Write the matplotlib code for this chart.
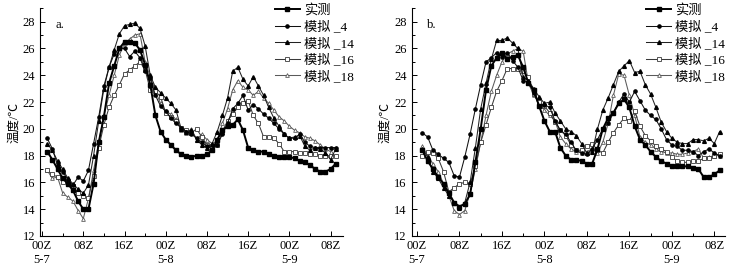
import matplotlib
matplotlib.use("Agg")
import matplotlib.pyplot as plt
from matplotlib.ticker import MultipleLocator, FixedLocator

plt.rcParams['font.family'] = ['Liberation Serif', 'Noto Sans CJK SC']
plt.rcParams['font.size'] = 9

hours = list(range(1, 58))

# ---------------- panel a ----------------
obs_a = [18.3, 17.7, 17.0, 16.3, 15.9, 15.4, 14.6, 14.0, 14.0, 15.9,
         19.0, 20.9, 23.4, 24.7, 26.0, 26.5, 26.5, 26.4, 25.9, 24.8,
         23.3, 21.0, 19.8, 19.2, 18.8, 18.4, 18.1, 18.0, 17.9, 18.0,
         18.0, 18.1, 18.4, 19.2, 19.9, 20.2, 20.3, 20.7, 19.9, 18.6,
         18.4, 18.3, 18.3, 18.1, 18.0, 17.9, 17.9, 17.9, 17.8, 17.6,
         17.5, 17.3, 17.0, 16.8, 16.8, 17.0, 17.4]
sim4_a = [19.3, 18.5, 17.3, 16.8, 16.2, 15.8, 16.4, 16.1, 16.9, 18.9,
          20.9, 23.2, 24.6, 25.6, 26.0, 26.0, 25.4, 25.8, 25.3, 24.3,
          23.8, 22.5, 21.7, 21.3, 20.8, 20.4, 20.1, 19.8, 19.6, 19.3,
          19.0, 18.7, 18.5, 18.8, 19.6, 20.4, 21.5, 21.9, 22.5, 21.4,
          21.8, 21.5, 21.1, 20.8, 20.4, 20.0, 19.6, 19.3, 19.3, 19.6,
          19.0, 18.7, 18.6, 18.6, 18.6, 18.6, 18.6]
sim14_a = [18.9, 18.4, 17.6, 17.0, 16.3, 15.9, 15.5, 15.2, 15.8, 18.0,
           20.6, 23.0, 24.6, 25.9, 27.1, 27.7, 27.8, 27.9, 27.5, 26.2,
           24.0, 23.1, 22.7, 22.3, 21.9, 21.4, 20.0, 19.8, 19.9, 19.2,
           18.8, 18.6, 18.9, 19.8, 21.0, 22.3, 24.3, 24.6, 23.7, 23.2,
           23.9, 23.2, 22.5, 21.6, 20.8, 20.2, 19.6, 19.3, 19.4, 19.5,
           18.7, 18.4, 18.6, 18.5, 18.2, 17.7, 18.5]
sim16_a = [16.9, 16.6, 16.4, 16.0, 15.9, 15.7, 15.2, 15.0, 14.8, 16.5,
           18.6, 20.3, 21.6, 22.5, 23.3, 24.1, 24.4, 24.7, 25.0, 24.4,
           22.9, 22.8, 22.4, 21.2, 20.9, 20.6, 20.1, 19.9, 19.7, 20.0,
           19.4, 18.8, 18.6, 18.8, 19.8, 20.6, 21.1, 21.6, 21.9, 22.1,
           21.0, 20.4, 19.4, 19.4, 19.3, 18.9, 18.3, 18.3, 18.3, 18.2,
           18.2, 18.1, 18.1, 18.0, 18.0, 18.0, 18.0]
sim18_a = [16.9, 16.3, 16.4, 15.2, 14.9, 14.6, 13.9, 13.3, 14.8, 16.9,
           19.0, 21.0, 22.5, 24.0, 25.5, 26.4, 26.7, 27.0, 27.1, 25.0,
           23.9, 22.8, 21.9, 21.3, 21.1, 20.7, 19.9, 19.7, 20.0, 19.2,
           19.6, 19.2, 18.9, 19.1, 20.4, 21.5, 22.9, 23.6, 23.1, 22.9,
           22.5, 22.8, 22.3, 21.9, 21.4, 20.9, 20.6, 20.2, 19.9, 19.7,
           19.4, 19.3, 19.1, 18.8, 18.5, 18.3, 18.6]

# ---------------- panel b ----------------
obs_b = [18.4, 17.6, 17.0, 16.4, 15.9, 15.2, 14.5, 14.2, 14.4, 15.1,
         17.5, 20.0, 22.9, 24.7, 25.3, 25.7, 25.2, 25.4, 25.5, 24.6,
         23.4, 22.9, 21.7, 20.6, 19.8, 19.8, 18.6, 18.0, 17.7, 17.7,
         17.6, 17.4, 17.4, 18.5, 20.0, 20.8, 21.2, 21.9, 22.2, 21.6,
         20.2, 19.2, 18.8, 18.3, 17.9, 17.6, 17.4, 17.2, 17.2, 17.2,
         17.2, 17.1, 17.0, 16.4, 16.4, 16.6, 16.9]
sim4_b = [19.7, 19.4, 18.4, 18.1, 17.8, 17.5, 16.5, 16.4, 17.9, 19.6,
          21.5, 23.3, 25.0, 25.3, 25.7, 25.4, 25.7, 25.1, 24.6, 23.6,
          23.5, 22.7, 21.7, 21.8, 21.6, 20.6, 19.9, 19.6, 19.0, 18.4,
          18.2, 18.1, 18.5, 19.2, 20.0, 20.4, 21.2, 22.0, 22.6, 22.0,
          22.8, 22.1, 21.4, 21.0, 20.7, 20.0, 19.2, 18.8, 18.7, 18.4,
          18.4, 18.3, 18.0, 18.3, 18.5, 18.2, 18.0]
sim14_b = [18.5, 17.9, 16.8, 16.3, 15.6, 15.0, 14.5, 14.1, 14.5, 16.0,
           18.6, 21.5, 23.4, 25.2, 26.6, 26.6, 26.8, 26.4, 26.0, 23.9,
           23.6, 23.0, 22.4, 21.9, 22.0, 21.2, 20.6, 20.0, 19.8, 19.5,
           18.9, 18.2, 18.3, 20.0, 21.4, 22.3, 23.3, 24.3, 24.7, 25.1,
           24.2, 24.3, 23.3, 22.6, 21.6, 20.5, 19.8, 19.3, 19.0, 18.9,
           18.9, 19.2, 19.2, 19.1, 19.3, 18.9, 19.8]
sim16_b = [18.0, 18.3, 18.2, 17.8, 16.8, 15.3, 15.6, 15.9, 16.0, 15.9,
           17.2, 19.0, 20.3, 21.6, 22.8, 23.6, 24.5, 24.5, 24.5, 24.3,
           23.9, 22.6, 22.0, 21.7, 21.2, 20.5, 19.9, 19.5, 18.8, 18.4,
           18.4, 18.7, 18.9, 18.4, 18.2, 19.0, 19.7, 20.3, 20.8, 20.6,
           21.3, 20.2, 19.5, 19.1, 18.7, 18.5, 18.3, 17.9, 17.6, 17.5,
           17.5, 17.6, 17.6, 17.8, 17.8, 18.0, 18.1]
sim18_b = [18.7, 18.0, 17.4, 16.8, 15.9, 15.0, 13.9, 13.6, 13.9, 15.2,
           17.0, 19.0, 21.0, 22.8, 24.0, 25.0, 25.6, 25.8, 26.0, 25.8,
           23.4, 22.5, 22.0, 21.4, 21.0, 20.6, 19.4, 18.9, 18.5, 18.3,
           18.2, 18.3, 18.5, 18.2, 19.0, 20.4, 22.5, 24.1, 24.0, 22.5,
           21.0, 19.4, 19.0, 18.8, 18.5, 18.3, 18.2, 18.2, 18.1, 18.1,
           18.2, 18.3, 18.5, 17.8, 17.9, 18.0, 18.0]

labels = ['实测', '模拟 _4', '模拟 _14', '模拟 _16', '模拟 _18']
xtick_pos = [0, 8, 16, 24, 32, 40, 48, 56]
xtick_labels = ['00Z\n5-7', '08Z', '16Z', '00Z\n5-8', '08Z', '16Z', '00Z\n5-9', '08Z']
ytick_pos = [12, 14, 16, 18, 20, 22, 24, 26, 28]

styles = [
    dict(color='black', lw=1.4, marker='s', ms=2.8, mfc='black', mec='black'),
    dict(color='#111111', lw=0.75, marker='o', ms=2.3, mfc='black', mec='black'),
    dict(color='#222222', lw=0.75, marker='^', ms=2.7, mfc='black', mec='black'),
    dict(color='#3a3a3a', lw=0.75, marker='s', ms=2.7, mfc='white', mec='#3a3a3a', mew=0.6),
    dict(color='#5a5a5a', lw=0.75, marker='^', ms=2.7, mfc='white', mec='#5a5a5a', mew=0.6),
]

fig = plt.figure(figsize=(7.37, 2.72), dpi=100)
ax_a = fig.add_axes([0.0543, 0.1324, 0.411, 0.837])
ax_b = fig.add_axes([0.5586, 0.1324, 0.425, 0.837])

panels = [
    (ax_a, [obs_a, sim4_a, sim14_a, sim16_a, sim18_a], 'a.', (-0.4, 58.4), (1.035, 1.02)),
    (ax_b, [obs_b, sim4_b, sim14_b, sim16_b, sim18_b], 'b.', (-1.0, 58.0), (1.0, 1.02)),
]

for ax, series, tag, xl, anchor in panels:
    order = [4, 3, 2, 1, 0]
    lines = {}
    for i in order:
        ln, = ax.plot(hours, series[i], label=labels[i], **styles[i])
        lines[i] = ln
    ax.set_xlim(*xl)
    ax.set_ylim(12, 29)
    ax.xaxis.set_major_locator(FixedLocator(xtick_pos))
    ax.set_xticklabels(xtick_labels)
    ax.xaxis.set_minor_locator(MultipleLocator(4))
    ax.yaxis.set_major_locator(FixedLocator(ytick_pos))
    ax.yaxis.set_minor_locator(MultipleLocator(1))
    ax.tick_params(which='both', direction='in', labelsize=9, width=0.7)
    ax.tick_params(which='major', length=3.5)
    ax.tick_params(which='minor', length=2)
    ax.tick_params(axis='x', pad=3)
    for s in ['top', 'right']:
        ax.spines[s].set_visible(False)
    for s in ['left', 'bottom']:
        ax.spines[s].set_linewidth(0.8)
    ax.set_ylabel('温度/℃', fontsize=9, labelpad=2)
    ax.text(0.05, 0.955, tag, transform=ax.transAxes, fontsize=9, va='top', ha='left')
    ax.legend([lines[i] for i in range(5)], labels, loc='upper right',
              bbox_to_anchor=anchor, frameon=False, fontsize=9.5,
              handlelength=1.9, handletextpad=0.3, labelspacing=0.28,
              borderpad=0, borderaxespad=0)

fig.savefig('out.png', dpi=100)
